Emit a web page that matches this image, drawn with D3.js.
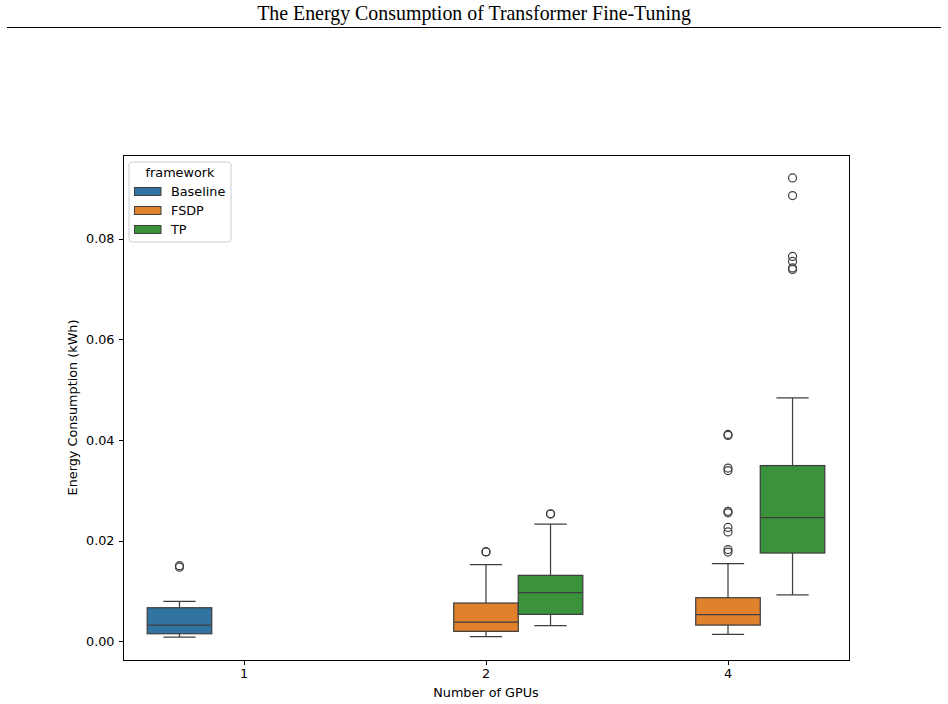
<!DOCTYPE html>
<html>
<head>
    <meta charset="utf-8">
    <title>Energy Consumption</title>
    <script src="https://d3js.org/d3.v7.min.js"></script>
</head>
<style>
    body {
        margin: 0;
        background: white;
    }

    .axis path,
    .axis line {
        stroke: black;
        shape-rendering: crispEdges;
    }

    .axis text {
        font-family: "DejaVu Sans", sans-serif;
        font-size: 12.8px;
        fill: black;
    }

    .label {
        font-family: "DejaVu Sans", sans-serif;
        font-size: 12.8px;
    }
</style>

<body>
    <svg id="chart"></svg>
    <script>
        // categories and series
        const gpus = ["1", "2", "4"];
        const frameworks = ["Baseline", "FSDP", "TP"];
        const colors = ["#3274a1", "#e1812c", "#3a923a"];

        // box stats, one entry per box
        const boxGpu = ["1", "2", "2", "4", "4"];
        const boxFramework = ["Baseline", "FSDP", "TP", "FSDP", "TP"];
        const whiskerLow = [0.0008, 0.00086, 0.00305, 0.00133, 0.00921];
        const q1 = [0.00146, 0.00193, 0.00531, 0.00318, 0.01751];
        const median = [0.00318, 0.00378, 0.00962, 0.00524, 0.02454];
        const q3 = [0.00663, 0.00756, 0.01307, 0.00862, 0.0349];
        const whiskerHigh = [0.0079, 0.0152, 0.02328, 0.01539, 0.04836];
        const outliers = [
            [0.0150, 0.0147],
            [0.01777, 0.01772],
            [0.02527, 0.0253],
            [0.0411, 0.0409, 0.0344, 0.0339, 0.0258, 0.0255, 0.0226, 0.0217, 0.0182, 0.0177],
            [0.0921, 0.0886, 0.0765, 0.0755, 0.0742, 0.0739]
        ];
        const yTicks = [0, 0.02, 0.04, 0.06, 0.08];

        const W = 948, H = 704;
        const margin = { top: 155, right: 99, bottom: 44, left: 123 };
        const width = W - margin.left - margin.right,
            height = H - margin.top - margin.bottom;

        const svg = d3.select("#chart")
            .attr("width", W)
            .attr("height", H);

        // page title with rule underneath
        svg.append("text")
            .attr("x", 474)
            .attr("y", 20)
            .attr("text-anchor", "middle")
            .style("font-family", "'Liberation Serif', serif")
            .style("font-size", "19.9px")
            .text("The Energy Consumption of Transformer Fine-Tuning");
        svg.append("line")
            .attr("x1", 7).attr("x2", 941)
            .attr("y1", 27.5).attr("y2", 27.5)
            .attr("stroke", "black")
            .attr("stroke-width", 1);

        const g = svg.append("g")
            .attr("transform", "translate(" + margin.left + "," + margin.top + ")");

        // X scale: one band per GPU count, hues dodged inside
        const x = d3.scaleBand().domain(gpus).range([0, width]);
        const hue = d3.scaleBand().domain(frameworks)
            .range([-0.4 * x.bandwidth(), 0.4 * x.bandwidth()]);

        // Y scale with matplotlib-like 5% margins
        const lo = d3.min(whiskerLow), hi = d3.max(outliers.flat());
        const pad = (hi - lo) * 0.05;
        const y = d3.scaleLinear().domain([lo - pad, hi + pad]).range([height, 0]);

        const color = d3.scaleOrdinal().domain(frameworks).range(colors);
        const edge = "#3f3f3f";
        const bw = hue.bandwidth();

        boxGpu.forEach(function(gp, i) {
            const cx = x(gp) + x.bandwidth() / 2 + hue(boxFramework[i]) + bw / 2;
            const b = g.append("g");
            // whiskers
            b.append("line")
                .attr("x1", cx).attr("x2", cx)
                .attr("y1", y(q3[i])).attr("y2", y(whiskerHigh[i]))
                .attr("stroke", edge).attr("stroke-width", 1.25);
            b.append("line")
                .attr("x1", cx).attr("x2", cx)
                .attr("y1", y(q1[i])).attr("y2", y(whiskerLow[i]))
                .attr("stroke", edge).attr("stroke-width", 1.25);
            [whiskerHigh[i], whiskerLow[i]].forEach(function(v) {
                b.append("line")
                    .attr("x1", cx - bw / 4).attr("x2", cx + bw / 4)
                    .attr("y1", y(v)).attr("y2", y(v))
                    .attr("stroke", edge).attr("stroke-width", 1.25);
            });
            // box
            b.append("rect")
                .attr("x", cx - bw / 2)
                .attr("y", y(q3[i]))
                .attr("width", bw)
                .attr("height", y(q1[i]) - y(q3[i]))
                .attr("fill", color(boxFramework[i]))
                .attr("stroke", edge)
                .attr("stroke-width", 1.25);
            // median
            b.append("line")
                .attr("x1", cx - bw / 2).attr("x2", cx + bw / 2)
                .attr("y1", y(median[i])).attr("y2", y(median[i]))
                .attr("stroke", edge).attr("stroke-width", 1.25);
            // fliers
            b.selectAll("circle")
                .data(outliers[i])
                .enter()
                .append("circle")
                .attr("cx", cx)
                .attr("cy", d => y(d))
                .attr("r", 4)
                .attr("fill", "none")
                .attr("stroke", edge)
                .attr("stroke-width", 1.2);
        });

        // axes
        g.append("g")
            .attr("class", "axis")
            .attr("transform", "translate(0," + height + ")")
            .call(d3.axisBottom(x).tickSizeOuter(0).tickSize(4.5).tickPadding(4))
            .select(".domain").remove();
        g.append("g")
            .attr("class", "axis")
            .call(d3.axisLeft(y).tickValues(yTicks).tickFormat(d3.format(".2f")).tickSize(4.5).tickPadding(4))
            .select(".domain").remove();

        // frame
        g.append("rect")
            .attr("width", width)
            .attr("height", height)
            .attr("fill", "none")
            .attr("stroke", "black")
            .attr("stroke-width", 1)
            .attr("shape-rendering", "crispEdges");

        // axis labels
        g.append("text")
            .attr("class", "label")
            .attr("x", width / 2)
            .attr("y", height + 37)
            .attr("text-anchor", "middle")
            .text("Number of GPUs");
        g.append("text")
            .attr("class", "label")
            .attr("transform", "translate(-46," + height / 2 + ") rotate(-90)")
            .attr("text-anchor", "middle")
            .text("Energy Consumption (kWh)");

        // legend
        const lg = g.append("g").attr("transform", "translate(6,7)");
        lg.append("rect")
            .attr("width", 102)
            .attr("height", 80)
            .attr("rx", 3)
            .attr("fill", "white")
            .attr("fill-opacity", 0.8)
            .attr("stroke", "#cccccc");
        lg.append("text")
            .attr("class", "label")
            .attr("x", 51)
            .attr("y", 15)
            .attr("text-anchor", "middle")
            .text("framework");
        frameworks.forEach(function(f, i) {
            const row = lg.append("g").attr("transform", "translate(0," + (29 + i * 19) + ")");
            row.append("rect")
                .attr("x", 5.5)
                .attr("y", -3.5)
                .attr("width", 26.5)
                .attr("height", 8)
                .attr("fill", color(f))
                .attr("stroke", edge)
                .attr("stroke-width", 1);
            row.append("text")
                .attr("class", "label")
                .attr("x", 42)
                .attr("y", 5)
                .text(f);
        });
    </script>
</body>
</html>
